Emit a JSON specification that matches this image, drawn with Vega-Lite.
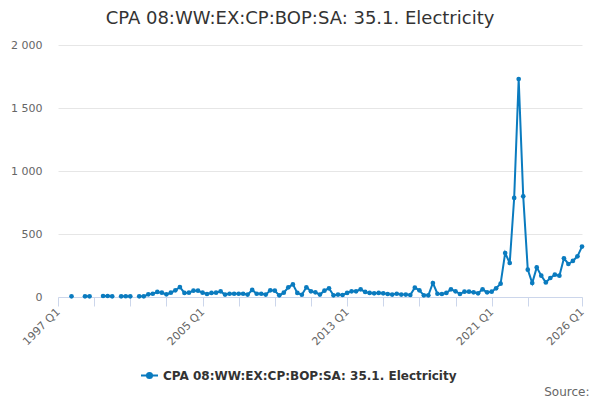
{
  "$schema": "https://vega.github.io/schema/vega-lite/v6.json",
  "width": 524,
  "height": 252,
  "autosize": "none",
  "padding": {"left": 58, "top": 45, "right": 18, "bottom": 103},
  "background": "white",
  "config": {
    "font": "DejaVu Sans",
    "view": {"stroke": null}
  },
  "title": {
    "text": "CPA 08:WW:EX:CP:BOP:SA: 35.1. Electricity",
    "fontSize": 18,
    "fontWeight": "normal",
    "color": "#333333",
    "anchor": "middle",
    "frame": "group",
    "dx": -20,
    "offset": 11
  },
  "data": {
    "values": [
      {"quarter": "1997-10-01", "value": 5},
      {"quarter": "1998-04-01", "value": null},
      {"quarter": "1998-07-01", "value": 5},
      {"quarter": "1998-10-01", "value": 5},
      {"quarter": "1999-04-01", "value": null},
      {"quarter": "1999-07-01", "value": 8},
      {"quarter": "1999-10-01", "value": 8},
      {"quarter": "2000-01-01", "value": 5},
      {"quarter": "2000-04-01", "value": null},
      {"quarter": "2000-07-01", "value": 5},
      {"quarter": "2000-10-01", "value": 6},
      {"quarter": "2001-01-01", "value": 5},
      {"quarter": "2001-04-01", "value": null},
      {"quarter": "2001-07-01", "value": 5},
      {"quarter": "2001-10-01", "value": 5},
      {"quarter": "2002-01-01", "value": 21},
      {"quarter": "2002-04-01", "value": 26},
      {"quarter": "2002-07-01", "value": 40},
      {"quarter": "2002-10-01", "value": 34},
      {"quarter": "2003-01-01", "value": 21},
      {"quarter": "2003-04-01", "value": 34},
      {"quarter": "2003-07-01", "value": 53},
      {"quarter": "2003-10-01", "value": 79},
      {"quarter": "2004-01-01", "value": 32},
      {"quarter": "2004-04-01", "value": 34},
      {"quarter": "2004-07-01", "value": 50},
      {"quarter": "2004-10-01", "value": 50},
      {"quarter": "2005-01-01", "value": 34},
      {"quarter": "2005-04-01", "value": 24},
      {"quarter": "2005-07-01", "value": 32},
      {"quarter": "2005-10-01", "value": 34},
      {"quarter": "2006-01-01", "value": 45},
      {"quarter": "2006-04-01", "value": 19},
      {"quarter": "2006-07-01", "value": 26},
      {"quarter": "2006-10-01", "value": 26},
      {"quarter": "2007-01-01", "value": 26},
      {"quarter": "2007-04-01", "value": 26},
      {"quarter": "2007-07-01", "value": 19},
      {"quarter": "2007-10-01", "value": 56},
      {"quarter": "2008-01-01", "value": 26},
      {"quarter": "2008-04-01", "value": 26},
      {"quarter": "2008-07-01", "value": 19},
      {"quarter": "2008-10-01", "value": 53},
      {"quarter": "2009-01-01", "value": 50},
      {"quarter": "2009-04-01", "value": 13},
      {"quarter": "2009-07-01", "value": 34},
      {"quarter": "2009-10-01", "value": 77},
      {"quarter": "2010-01-01", "value": 100},
      {"quarter": "2010-04-01", "value": 32},
      {"quarter": "2010-07-01", "value": 18},
      {"quarter": "2010-10-01", "value": 77},
      {"quarter": "2011-01-01", "value": 45},
      {"quarter": "2011-04-01", "value": 37},
      {"quarter": "2011-07-01", "value": 19},
      {"quarter": "2011-10-01", "value": 50},
      {"quarter": "2012-01-01", "value": 69},
      {"quarter": "2012-04-01", "value": 13},
      {"quarter": "2012-07-01", "value": 19},
      {"quarter": "2012-10-01", "value": 16},
      {"quarter": "2013-01-01", "value": 32},
      {"quarter": "2013-04-01", "value": 45},
      {"quarter": "2013-07-01", "value": 45},
      {"quarter": "2013-10-01", "value": 61},
      {"quarter": "2014-01-01", "value": 40},
      {"quarter": "2014-04-01", "value": 32},
      {"quarter": "2014-07-01", "value": 29},
      {"quarter": "2014-10-01", "value": 32},
      {"quarter": "2015-01-01", "value": 29},
      {"quarter": "2015-04-01", "value": 24},
      {"quarter": "2015-07-01", "value": 19},
      {"quarter": "2015-10-01", "value": 26},
      {"quarter": "2016-01-01", "value": 19},
      {"quarter": "2016-04-01", "value": 19},
      {"quarter": "2016-07-01", "value": 16},
      {"quarter": "2016-10-01", "value": 74},
      {"quarter": "2017-01-01", "value": 53},
      {"quarter": "2017-04-01", "value": 13},
      {"quarter": "2017-07-01", "value": 13},
      {"quarter": "2017-10-01", "value": 111},
      {"quarter": "2018-01-01", "value": 26},
      {"quarter": "2018-04-01", "value": 24},
      {"quarter": "2018-07-01", "value": 32},
      {"quarter": "2018-10-01", "value": 61},
      {"quarter": "2019-01-01", "value": 45},
      {"quarter": "2019-04-01", "value": 24},
      {"quarter": "2019-07-01", "value": 42},
      {"quarter": "2019-10-01", "value": 42},
      {"quarter": "2020-01-01", "value": 37},
      {"quarter": "2020-04-01", "value": 29},
      {"quarter": "2020-07-01", "value": 61},
      {"quarter": "2020-10-01", "value": 37},
      {"quarter": "2021-01-01", "value": 42},
      {"quarter": "2021-04-01", "value": 69},
      {"quarter": "2021-07-01", "value": 106},
      {"quarter": "2021-10-01", "value": 349},
      {"quarter": "2022-01-01", "value": 270},
      {"quarter": "2022-04-01", "value": 786},
      {"quarter": "2022-07-01", "value": 1730},
      {"quarter": "2022-10-01", "value": 799},
      {"quarter": "2023-01-01", "value": 217},
      {"quarter": "2023-04-01", "value": 111},
      {"quarter": "2023-07-01", "value": 235},
      {"quarter": "2023-10-01", "value": 169},
      {"quarter": "2024-01-01", "value": 116},
      {"quarter": "2024-04-01", "value": 151},
      {"quarter": "2024-07-01", "value": 177},
      {"quarter": "2024-10-01", "value": 169},
      {"quarter": "2025-01-01", "value": 307},
      {"quarter": "2025-04-01", "value": 262},
      {"quarter": "2025-07-01", "value": 286},
      {"quarter": "2025-10-01", "value": 323},
      {"quarter": "2026-01-01", "value": 400}
    ]
  },
  "mark": {
    "type": "line",
    "strokeWidth": 2,
    "invalid": "break-paths-show-domains",
    "point": {"filled": true, "size": 22}
  },
  "encoding": {
    "x": {
      "field": "quarter",
      "type": "temporal",
      "scale": {
        "type": "utc",
        "domain": [{"year": 1997, "month": 1, "date": 1, "utc": true}, {"year": 2026, "month": 1, "date": 1, "utc": true}],
        "nice": false
      },
      "axis": {
        "values": [
          {"year": 1997, "month": 1, "date": 1, "utc": true},
          {"year": 1999, "month": 1, "date": 1, "utc": true},
          {"year": 2001, "month": 1, "date": 1, "utc": true},
          {"year": 2003, "month": 1, "date": 1, "utc": true},
          {"year": 2005, "month": 1, "date": 1, "utc": true},
          {"year": 2007, "month": 1, "date": 1, "utc": true},
          {"year": 2009, "month": 1, "date": 1, "utc": true},
          {"year": 2011, "month": 1, "date": 1, "utc": true},
          {"year": 2013, "month": 1, "date": 1, "utc": true},
          {"year": 2015, "month": 1, "date": 1, "utc": true},
          {"year": 2017, "month": 1, "date": 1, "utc": true},
          {"year": 2019, "month": 1, "date": 1, "utc": true},
          {"year": 2021, "month": 1, "date": 1, "utc": true},
          {"year": 2023, "month": 1, "date": 1, "utc": true},
          {"year": 2026, "month": 1, "date": 1, "utc": true}
        ],
        "labelExpr": "indexof([1997, 2005, 2013, 2021, 2026], utcyear(datum.value)) >= 0 ? utcFormat(datum.value, '%Y Q%q') : ''",
        "labelAngle": -45,
        "labelAlign": "right",
        "labelBaseline": "middle",
        "labelFontSize": 11,
        "labelColor": "#666666",
        "labelPadding": 4,
        "labelOverlap": false,
        "labelFlush": false,
        "domainColor": "#ccd6eb",
        "tickColor": "#ccd6eb",
        "tickSize": 9,
        "grid": false,
        "title": "Source:",
        "titleFontSize": 12,
        "titleFontWeight": "normal",
        "titleColor": "#666666",
        "titleAnchor": "end",
        "titleAlign": "right",
        "titleBaseline": "alphabetic",
        "titleX": 531,
        "titleY": 98
      }
    },
    "y": {
      "field": "value",
      "type": "quantitative",
      "scale": {"domain": [0, 2000], "nice": false},
      "axis": {
        "values": [0, 500, 1000, 1500, 2000],
        "labelExpr": "replace(format(datum.value, ','), ',', ' ')",
        "labelFontSize": 11,
        "labelColor": "#666666",
        "labelPadding": 16,
        "domain": false,
        "ticks": false,
        "gridColor": "#e6e6e6",
        "title": null
      }
    },
    "color": {
      "datum": "CPA 08:WW:EX:CP:BOP:SA: 35.1. Electricity",
      "scale": {"range": ["#0a7bbf"]},
      "legend": {
        "orient": "none",
        "legendX": 82,
        "legendY": 321,
        "title": null,
        "labelFontSize": 12,
        "labelFontWeight": "bold",
        "labelColor": "#333333",
        "labelLimit": 0,
        "symbolType": "M-1,0H1M-0.3,0A0.3,0.3,0,1,1,0.3,0A0.3,0.3,0,1,1,-0.3,0",
        "symbolSize": 289,
        "symbolStrokeWidth": 2,
        "symbolFillColor": "#0a7bbf",
        "symbolStrokeColor": "#0a7bbf"
      }
    }
  }
}
